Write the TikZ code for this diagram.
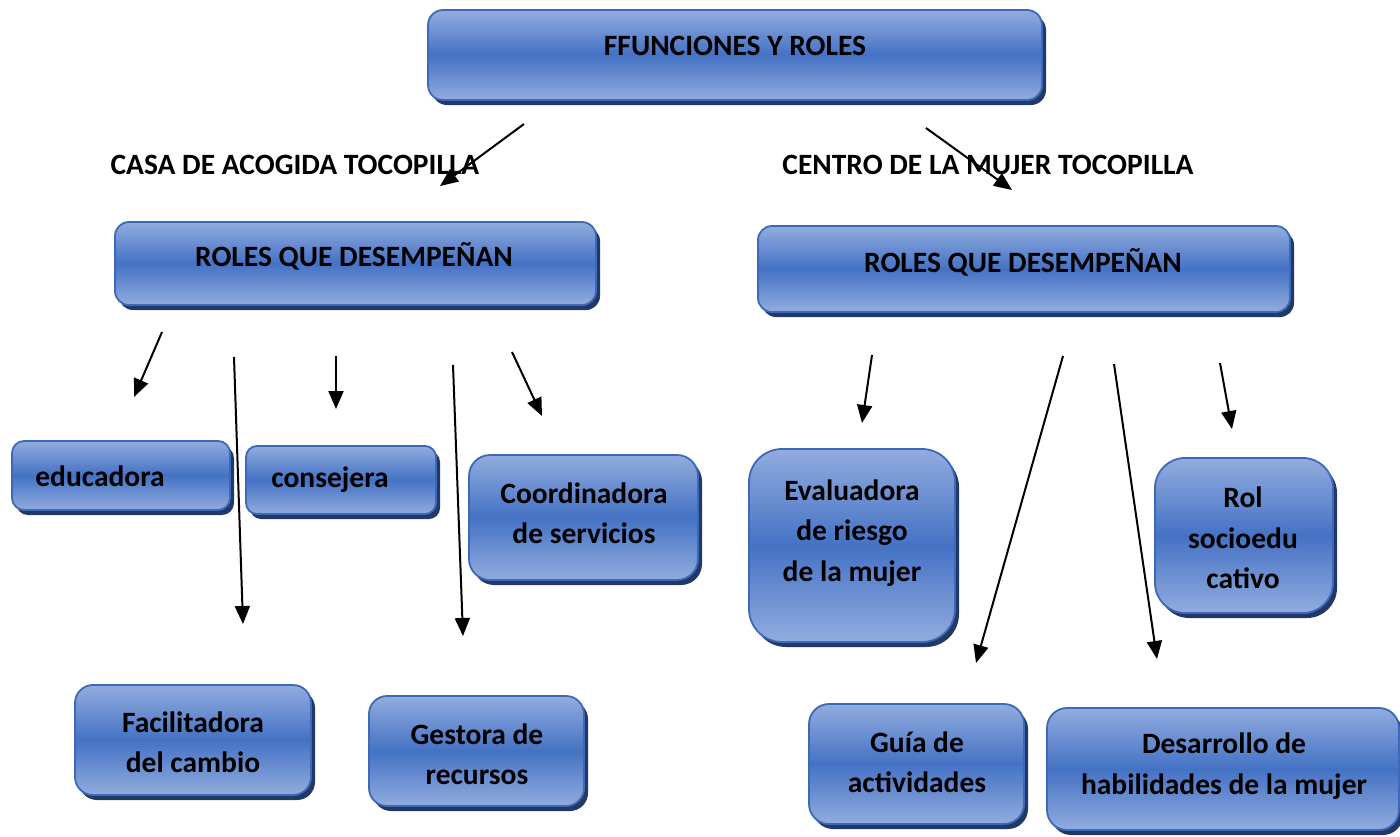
\documentclass[tikz,border=0pt]{standalone}
\usepackage{fontspec}
\setmainfont{Carlito}
\usetikzlibrary{arrows.meta,shadows}
\definecolor{boxlight}{RGB}{146,172,222}
\definecolor{boxdark}{RGB}{68,114,196}
\definecolor{boxedge}{RGB}{62,104,184}
\definecolor{boxshadow}{RGB}{34,56,102}
\tikzset{
  box/.style={draw=boxedge, line width=1.8pt, top color=boxlight, bottom color=boxlight, middle color=boxdark,
    drop shadow={shadow xshift=4pt, shadow yshift=-5pt, fill=boxshadow, opacity=1}},
  lbl/.style={font=\fontsize{29.5}{40.5}\selectfont\bfseries, align=center, inner sep=0pt, text=black},
  arr/.style={line width=2pt, -{Triangle[length=18pt,width=15pt]}}
}
\begin{document}
\begin{tikzpicture}[x=1pt,y=-1pt]
\useasboundingbox (0,0) rectangle (1400,836);
% boxes
\node[box, minimum width=614pt, minimum height=90pt, rounded corners=15pt] (title) at (735,55) {};
\node[box, minimum width=481pt, minimum height=83pt, rounded corners=14pt] (lroles) at (355.5,263.5) {};
\node[box, minimum width=532pt, minimum height=86pt, rounded corners=14pt] (rroles) at (1024,269) {};
\node[box, minimum width=218pt, minimum height=69pt, rounded corners=12pt] (educ) at (121,475.5) {};
\node[box, minimum width=190pt, minimum height=68pt, rounded corners=11pt] (cons) at (341,480) {};
\node[box, minimum width=229pt, minimum height=125pt, rounded corners=21pt] (coord) at (583.5,517.5) {};
\node[box, minimum width=206pt, minimum height=193pt, rounded corners=33pt] (eval) at (852,545.5) {};
\node[box, minimum width=178pt, minimum height=155pt, rounded corners=30pt] (rol) at (1244,535.5) {};
\node[box, minimum width=236pt, minimum height=110pt, rounded corners=18pt] (facil) at (193,740) {};
\node[box, minimum width=215pt, minimum height=110pt, rounded corners=18pt] (gest) at (476.5,751) {};
\node[box, minimum width=215pt, minimum height=120pt, rounded corners=20pt] (guia) at (916.5,764) {};
\node[box, minimum width=352pt, minimum height=122pt, rounded corners=20pt] (desa) at (1223,769) {};
% texts
\node[lbl] (titlet) at (735,46) {FFUNCIONES Y ROLES};
\node[lbl] (casa) at (295,165) {CASA DE ACOGIDA TOCOPILLA};
\node[lbl] (centro) at (988,165) {CENTRO DE LA MUJER TOCOPILLA};
\node[lbl] (lrolest) at (354,256) {ROLES QUE DESEMPEÑAN};
\node[lbl] (rrolest) at (1023,262) {ROLES QUE DESEMPEÑAN};
\node[lbl] (educt) at (100,476) {educadora};
\node[lbl] (const) at (330,480) {consejera};
\node[lbl] (coordt) at (584,513) {Coordinadora\\de servicios};
\node[lbl] (evalt) at (852,533) {Evaluadora\\de riesgo\\de la mujer};
\node[lbl] (rolt) at (1243,538) {Rol\\socioedu\\cativo};
\node[lbl] (facilt) at (193,742) {Facilitadora\\del cambio};
\node[lbl] (gestt) at (477,754) {Gestora de\\recursos};
\node[lbl] (guiat) at (917,762) {Guía de\\actividades};
\node[lbl] (desat) at (1224,766) {Desarrollo de\\habilidades de la mujer};
% arrow end points
\coordinate (a1s) at (524,124); \coordinate (a1e) at (440,186);
\coordinate (a2s) at (926,128); \coordinate (a2e) at (1012,190);
\coordinate (l1s) at (162,332); \coordinate (l1e) at (134,397);
\coordinate (l2s) at (234,357); \coordinate (l2e) at (243,624);
\coordinate (l3s) at (336,356); \coordinate (l3e) at (336,409);
\coordinate (l4s) at (453,365); \coordinate (l4e) at (463,636);
\coordinate (l5s) at (512,352); \coordinate (l5e) at (542,416);
\coordinate (r1s) at (872,355); \coordinate (r1e) at (862,423);
\coordinate (r2s) at (1063,356); \coordinate (r2e) at (976,663);
\coordinate (r3s) at (1114,364); \coordinate (r3e) at (1157,659);
\coordinate (r4s) at (1220,363); \coordinate (r4e) at (1232,429);
\foreach \a in {a1,a2,l1,l2,l3,l4,l5,r1,r2,r3,r4}
  \draw[arr] (\a s) -- (\a e);
\end{tikzpicture}
\end{document}
